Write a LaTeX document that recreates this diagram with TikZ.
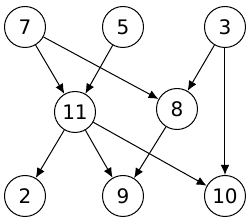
\documentclass[tikz,border=0pt]{standalone}
\usepackage{fontspec}
\setmainfont{DejaVu Sans}
\usetikzlibrary{arrows.meta}
\begin{document}
\begin{tikzpicture}[x=1pt,y=-1pt,
  vertex/.style={circle,draw,line width=1pt,minimum size=41pt,inner sep=0pt,font=\fontsize{20}{22}\selectfont},
  edge/.style={line width=1pt,-{Latex[length=10pt,width=8.5pt]}}]
\useasboundingbox (0,0) rectangle (250,222);
\node[vertex] (n7) at (25,27) {7};
\node[vertex] (n5) at (123,27) {5};
\node[vertex] (n3) at (225,27) {3};
\node[vertex] (n11) at (75,112) {11};
\node[vertex] (n8) at (177,109) {8};
\node[vertex] (n2) at (25,196) {2};
\node[vertex] (n9) at (123,196) {9};
\node[vertex] (n10) at (225,196) {10};
\draw[edge] (n7) -- (n11);
\draw[edge] (n7) -- (n8);
\draw[edge] (n5) -- (n11);
\draw[edge] (n3) -- (n8);
\draw[edge] (n3.south) -- (n10.north);
\draw[edge] (n11) -- (n2);
\draw[edge] (n11) -- (n9);
\draw[edge] (n11) -- (n10);
\draw[edge] (n8) -- (n9);
\end{tikzpicture}
\end{document}
